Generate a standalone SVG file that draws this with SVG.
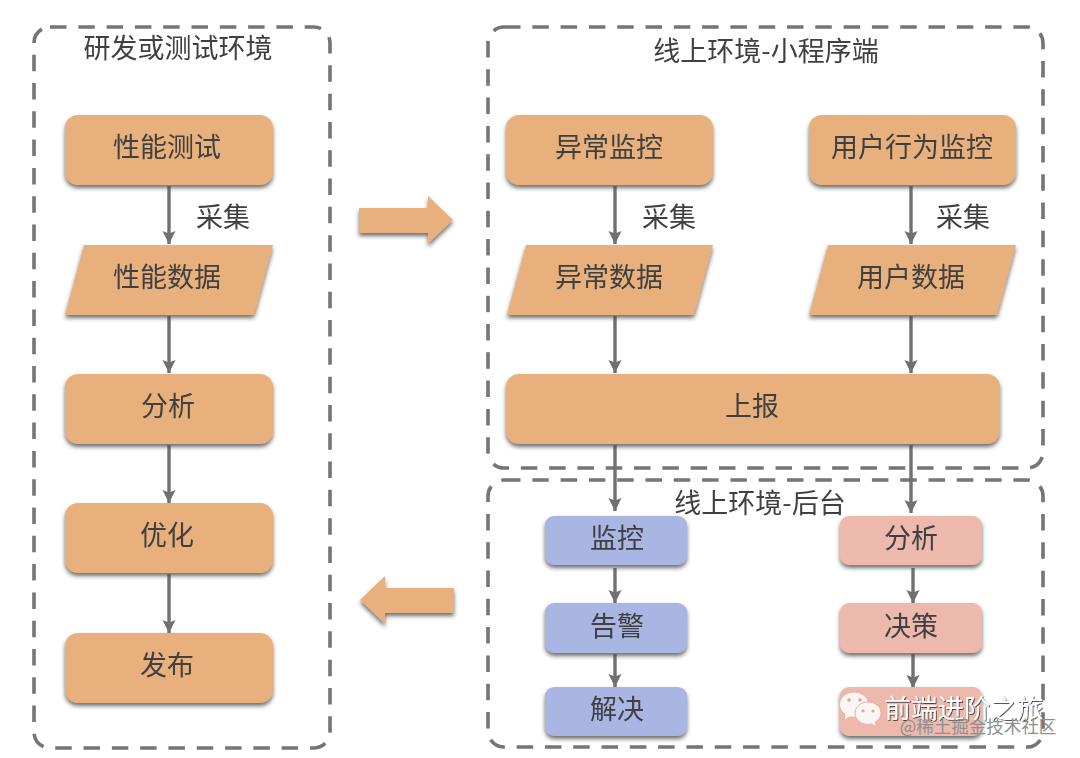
<svg xmlns="http://www.w3.org/2000/svg" width="1080" height="758" viewBox="0 0 1080 758">
<defs>
<filter id="sh" x="-10%" y="-15%" width="120%" height="140%"><feGaussianBlur in="SourceGraphic" stdDeviation=".5" result="s"/><feDropShadow in="s" dx="0" dy="3" stdDeviation="2" flood-color="#4a4a4a" flood-opacity=".8"/></filter>
<filter id="bl" x="-5%" y="-5%" width="110%" height="110%"><feGaussianBlur stdDeviation=".5"/></filter>
<filter id="tb" x="-5%" y="-10%" width="110%" height="120%"><feGaussianBlur stdDeviation=".35"/></filter>
<filter id="wm" x="-5%" y="-15%" width="110%" height="130%"><feDropShadow dx=".8" dy=".8" stdDeviation=".6" flood-color="#222" flood-opacity=".95"/></filter>
<marker id="ah" markerUnits="userSpaceOnUse" markerWidth="14" markerHeight="14" refX="13" refY="7" orient="auto"><path d="M0 0.5L13 7L0 13.5L2.5 7Z" fill="#707070"/></marker>
</defs>
<style>
text{font-family:"Noto Sans CJK SC","Noto Sans",sans-serif;fill:#3f3f3f;text-anchor:middle;filter:url(#tb)}
.t{font-size:27px}
.frame{fill:none;stroke:#747474;stroke-width:3.6;stroke-dasharray:16.5 11.8}
.o{fill:#e8b07c;filter:url(#sh)}
.b{fill:#a9b5e2;filter:url(#sh)}
.p{fill:#edb9ad;filter:url(#sh)}
.c{fill:none;stroke:#707070;stroke-width:3.4;marker-end:url(#ah)}
</style>
<rect width="1080" height="758" fill="#fff"/>
<g id="frames" filter="url(#bl)">
<rect id="frame-dev" class="frame" x="34" y="27" width="296" height="721" rx="16"/>
<rect id="frame-mp" class="frame" x="488" y="27" width="555" height="441" rx="16"/>
<rect id="frame-backend" class="frame" x="488" y="480" width="555" height="267" rx="16"/>
</g>
<g id="frame-labels">
<text class="t" x="178" y="58">研发或测试环境</text>
<text class="t" x="766" y="61">线上环境-小程序端</text>
<text class="t" x="760" y="513">线上环境-后台</text>
</g>
<g id="connectors" filter="url(#bl)">
<path class="c" d="M169 186V244"/>
<path class="c" d="M169 316V373"/>
<path class="c" d="M169 445V503"/>
<path class="c" d="M169 574V633"/>
<path class="c" d="M615 186V244"/>
<path class="c" d="M911 186V244"/>
<path class="c" d="M615 316V373"/>
<path class="c" d="M911 316V373"/>
<path class="c" d="M615 445V511"/>
<path class="c" d="M911 445V513"/>
<path class="c" d="M615 568V603"/>
<path class="c" d="M913 568V603"/>
<path class="c" d="M615 654V687"/>
<path class="c" d="M913 654V688"/>
</g>
<g id="edge-labels">
<text class="t" x="223" y="227">采集</text>
<text class="t" x="669" y="227">采集</text>
<text class="t" x="963" y="227">采集</text>
</g>
<g id="n-perf-test"><rect class="o" x="65" y="115" width="208" height="70" rx="13"/><text class="t" x="167" y="157">性能测试</text></g>
<g id="n-perf-data"><path class="o" d="M84 245H273L254 315H65Z"/><text class="t" x="167" y="287">性能数据</text></g>
<g id="n-analysis"><rect class="o" x="65" y="374" width="208" height="70" rx="13"/><text class="t" x="168" y="416">分析</text></g>
<g id="n-optimize"><rect class="o" x="65" y="503" width="208" height="70" rx="13"/><text class="t" x="167" y="545">优化</text></g>
<g id="n-publish"><rect class="o" x="65" y="633" width="208" height="70" rx="13"/><text class="t" x="167" y="675">发布</text></g>
<g id="n-err-mon"><rect class="o" x="506" y="115" width="207" height="70" rx="13"/><text class="t" x="609" y="157">异常监控</text></g>
<g id="n-user-mon"><rect class="o" x="809" y="115" width="207" height="70" rx="13"/><text class="t" x="912" y="157">用户行为监控</text></g>
<g id="n-err-data"><path class="o" d="M526 245H713L694 315H507Z"/><text class="t" x="609" y="287">异常数据</text></g>
<g id="n-user-data"><path class="o" d="M828 245H1016L997 315H809Z"/><text class="t" x="911" y="287">用户数据</text></g>
<g id="n-report"><rect class="o" x="506" y="374" width="494" height="70" rx="13"/><text class="t" x="752" y="416">上报</text></g>
<g id="n-monitor"><rect class="b" x="545" y="516" width="142" height="49" rx="9"/><text class="t" x="617" y="548">监控</text></g>
<g id="n-alert"><rect class="b" x="545" y="603" width="142" height="50" rx="9"/><text class="t" x="617" y="636">告警</text></g>
<g id="n-solve"><rect class="b" x="545" y="687" width="142" height="49" rx="9"/><text class="t" x="617" y="719">解决</text></g>
<g id="n-analyze2"><rect class="p" x="840" y="516" width="142" height="49" rx="9"/><text class="t" x="911" y="548">分析</text></g>
<g id="n-decide"><rect class="p" x="840" y="603" width="142" height="50" rx="9"/><text class="t" x="911" y="636">决策</text></g>
<g id="n-last"><rect class="p" x="840" y="687" width="142" height="49" rx="9"/></g>
<g id="arrows-big" fill="#e8b07c" filter="url(#sh)">
<path d="M359 208H428V196L453 220L428 244V233H359Z"/>
<path d="M454 588H385V576L360 600L385 624V613H454Z"/>
</g>
<g id="watermark">
<g fill="#fbf6f2" stroke="#e9b0a4" stroke-width="1">
<path d="M854 692c-8 0-14.500 5.600-14.500 12.500 0 4 2 7.500 5.500 9.800l-1 6 6-3.400c1.300.3 2.600.5 4 .5 8 0 14.500-5.600 14.500-12.900S862 692 854 692Z"/>
<path d="M868 702c-7.200 0-13 5-13 11.200s5.800 11.200 13 11.200c1.200 0 2.300-.1 3.400-.4l5 3-1-5c3.400-2 5.600-5.200 5.600-8.800 0-6.200-5.800-11.200-13-11.200Z"/>
</g>
<g fill="#d9a79c"><circle cx="849" cy="700" r="1.800"/><circle cx="860" cy="700" r="1.800"/><circle cx="863" cy="711" r="1.600"/><circle cx="873" cy="711" r="1.600"/></g>
<text x="964" y="718" font-size="26.500" style="fill:#fff;filter:url(#wm)">前端进阶之旅</text>
<text x="978" y="733" font-size="17.500" style="fill:#8f8f8f;filter:none">@稀土掘金技术社区</text>
</g>
</svg>
